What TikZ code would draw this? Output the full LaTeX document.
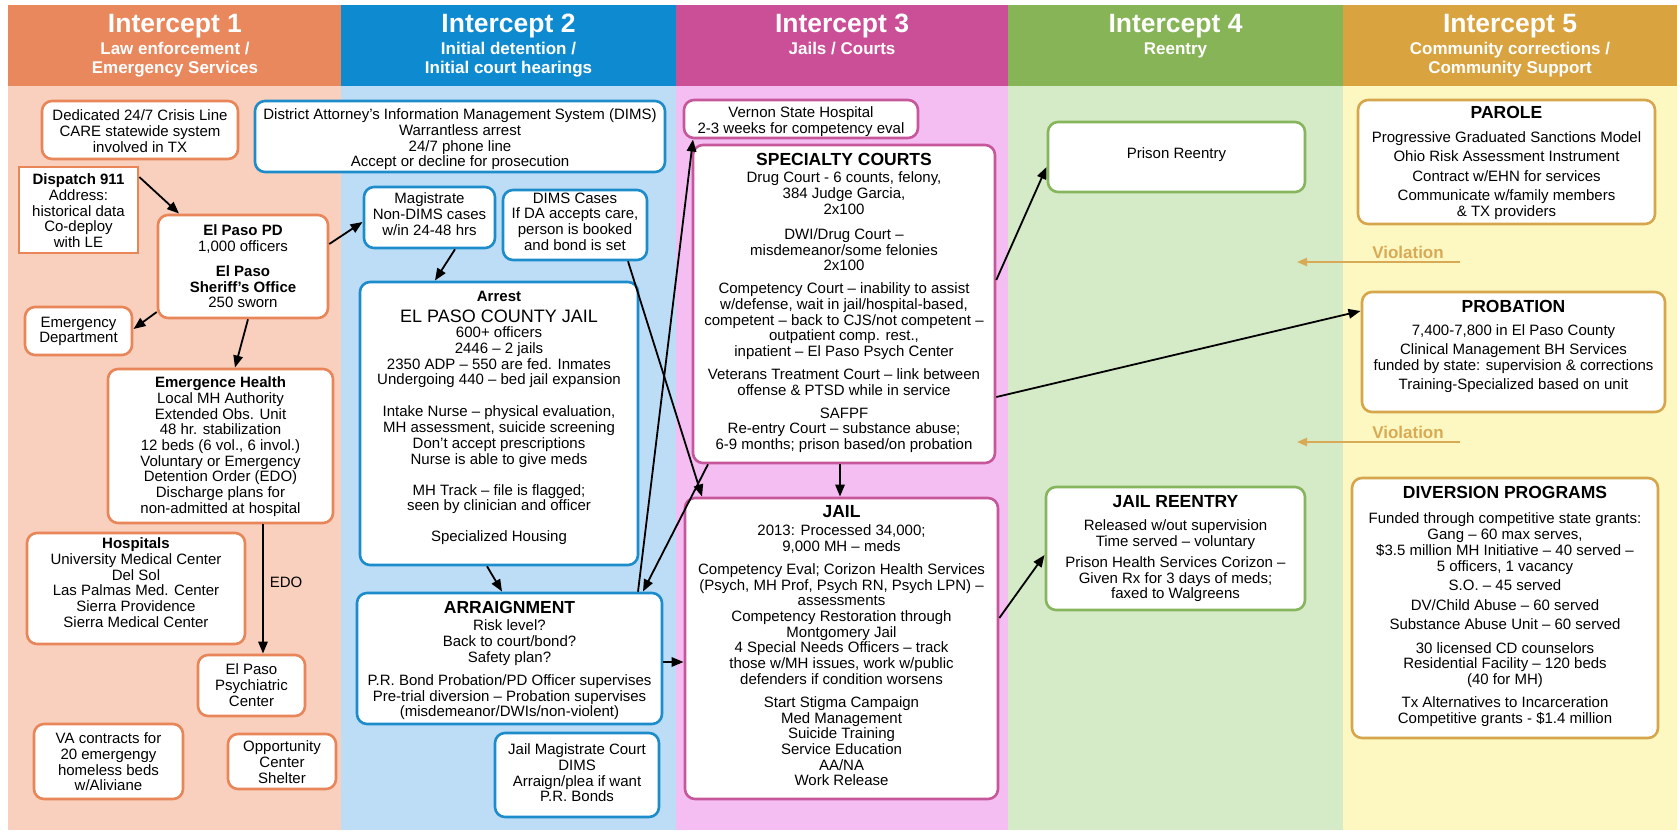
\documentclass[tikz,border=0pt]{standalone}
\usepackage{fontspec}
\setmainfont{Liberation Sans}
\usetikzlibrary{arrows.meta,calc}
\definecolor{c1h}{HTML}{E9875D}
\definecolor{c1b}{HTML}{F9D0BD}
\definecolor{c1l}{HTML}{E8865A}
\definecolor{c2h}{HTML}{0E8AD0}
\definecolor{c2b}{HTML}{BDDCF6}
\definecolor{c2l}{HTML}{1C8CCB}
\definecolor{c3h}{HTML}{CB4F96}
\definecolor{c3b}{HTML}{F5BEF2}
\definecolor{c3l}{HTML}{C5579A}
\definecolor{c4h}{HTML}{86B456}
\definecolor{c4b}{HTML}{D5EAC6}
\definecolor{c4l}{HTML}{86B55E}
\definecolor{c5h}{HTML}{D9A33F}
\definecolor{c5b}{HTML}{FDF8C2}
\definecolor{c5l}{HTML}{D6A64C}
\definecolor{viol}{HTML}{D9AA55}
\newcommand\bodyfont{\fontsize{15}{15.7}\selectfont}
\newcommand\ttl{\bfseries\fontsize{17.5}{17.5}\selectfont}
\newcommand\mkbox[6]{\node[box,draw=#2,minimum width={(#5-#3)*1pt},minimum height={(#6-#4)*1pt}] (#1) at ({(#3+#5)/2},{(#4+#6)/2}) {};}
\tikzset{
  box/.style={line width=2.6pt, rounded corners=10pt, fill=white, inner sep=0pt, outer sep=0pt},
  txt/.style={align=center, inner sep=0pt, font=\bodyfont, anchor=north},
  conn/.style={-{Triangle[length=12pt,width=9.5pt]}, line width=1.8pt, black},
  vconn/.style={-{Triangle[length=10pt,width=8pt]}, line width=2pt, viol},
  htitle/.style={anchor=base, inner sep=0pt, text=white, font=\bfseries\fontsize{26.5}{26.5}\selectfont},
  hsub/.style={anchor=base, inner sep=0pt, text=white, font=\bfseries\fontsize{17}{17}\selectfont},
  vtext/.style={anchor=base, inner sep=0pt, text=viol, font=\bfseries\fontsize{17}{17}\selectfont}
}
\begin{document}
\begin{tikzpicture}[x=1pt,y=-1pt]
\useasboundingbox (0,0) rectangle (1677,830);
\fill[white] (0,0) rectangle (1677,830);
% column backgrounds
\fill[c1b] (8,86) rectangle (341,830);
\fill[c2b] (341,86) rectangle (676,830);
\fill[c3b] (676,86) rectangle (1008,830);
\fill[c4b] (1008,86) rectangle (1343,830);
\fill[c5b] (1343,86) rectangle (1677,830);
\fill[c1h] (8,5) rectangle (341,86);
\fill[c2h] (341,5) rectangle (676,86);
\fill[c3h] (676,5) rectangle (1008,86);
\fill[c4h] (1008,5) rectangle (1343,86);
\fill[c5h] (1343,5) rectangle (1677,86);
% headers
\node[htitle] (h1t) at (175,32.5) {Intercept 1};
\node[hsub] (h1a) at (175,54) {Law enforcement /};
\node[hsub] (h1b) at (175,73.6) {Emergency Services};
\node[htitle] (h2t) at (508.5,32.5) {Intercept 2};
\node[hsub] (h2a) at (508.5,54) {Initial detention /};
\node[hsub] (h2b) at (508.5,73.6) {Initial court hearings};
\node[htitle] (h3t) at (842,32.5) {Intercept 3};
\node[hsub] (h3a) at (842,54) {Jails / Courts};
\node[htitle] (h4t) at (1175.5,32.5) {Intercept 4};
\node[hsub] (h4a) at (1175.5,54) {Reentry};
\node[htitle] (h5t) at (1510,32.5) {Intercept 5};
\node[hsub] (h5a) at (1510,54) {Community corrections /};
\node[hsub] (h5b) at (1510,73.6) {Community Support};

% ---------- Intercept 1 ----------
\mkbox{crisis}{c1l}{42}{101}{238}{159}
\node[txt] (crisis-t) at (140,109.6) {Dedicated 24/7 Crisis Line\\CARE statewide system\\involved in TX};
\node[box,draw=c1l,rounded corners=0pt,minimum width=119pt,minimum height=86pt] (dispatch) at (78.5,210) {};
\node[txt] (dispatch-t) at (78.5,173.6) {\textbf{Dispatch 911}\\Address:\\historical data\\Co-deploy\\with LE};
\mkbox{pd}{c1l}{158}{215}{328}{318}
\node[txt] (pd-t) at (243,224.6) {\textbf{El Paso PD}\\1,000 officers\\[9.3pt]\textbf{El Paso}\\\textbf{Sheriff’s Office}\\250 sworn};
\mkbox{ed}{c1l}{25}{307}{132}{355}
\node[txt] (ed-t) at (78.5,316.6) {Emergency\\Department};
\mkbox{eh}{c1l}{108}{369}{333}{523}
\node[txt] (eh-t) at (220.5,376.6) {\textbf{Emergence Health}\\Local MH Authority\\Extended Obs. Unit\\48 hr. stabilization\\12 beds (6 vol., 6 invol.)\\Voluntary or Emergency\\Detention Order (EDO)\\Discharge plans for\\non-admitted at hospital};
\mkbox{hosp}{c1l}{27}{533}{245}{644}
\node[txt] (hosp-t) at (136,537.6) {\textbf{Hospitals}\\University Medical Center\\Del Sol\\Las Palmas Med. Center\\Sierra Providence\\Sierra Medical Center};
\mkbox{epc}{c1l}{198}{655}{305}{716}
\node[txt] (epc-t) at (251.5,663.6) {El Paso\\Psychiatric\\Center};
\mkbox{va}{c1l}{34}{724}{183}{799}
\node[txt] (va-t) at (108.5,732.6) {VA contracts for\\20 emergengy\\homeless beds\\w/Aliviane};
\mkbox{opp}{c1l}{228}{734}{336}{789}
\node[txt] (opp-t) at (282,740.6) {Opportunity\\Center\\Shelter};

% ---------- Intercept 2 ----------
\mkbox{dims}{c2l}{255}{101}{665}{172}
\node[txt] (dims-t) at (460,108.6) {District Attorney’s Information Management System (DIMS)\\Warrantless arrest\\24/7 phone line\\Accept or decline for prosecution};
\mkbox{mag}{c2l}{364}{187}{495}{248}
\node[txt] (mag-t) at (429.5,192.6) {Magistrate\\Non-DIMS cases\\w/in 24-48 hrs};
\mkbox{dimsc}{c2l}{503}{190}{647}{260}
\node[txt] (dimsc-t) at (575,192.6) {DIMS Cases\\If DA accepts care,\\person is booked\\and bond is set};
\mkbox{jail1}{c2l}{360}{282}{638}{565}
\node[txt] (jail1-t) at (499,290.6) {\textbf{Arrest}\\[5.3pt]{\fontsize{18}{18}\selectfont EL PASO COUNTY JAIL}\\600+ officers\\2446 – 2 jails\\2350 ADP – 550 are fed. Inmates\\Undergoing 440 – bed jail expansion\\[16.3pt]Intake Nurse – physical evaluation,\\MH assessment, suicide screening\\Don’t accept prescriptions\\Nurse is able to give meds\\[15.3pt]MH Track – file is flagged;\\seen by clinician and officer\\[15.3pt]Specialized Housing};
\mkbox{arr}{c2l}{357}{593}{662}{724}
\node[txt] (arr-t) at (509.5,601.5) {{\ttl ARRAIGNMENT}\\[1.3pt]Risk level?\\Back to court/bond?\\Safety plan?\\[7.3pt]P.R. Bond Probation/PD Officer supervises\\Pre-trial diversion – Probation supervises\\(misdemeanor/DWIs/non-violent)};
\mkbox{jmc}{c2l}{495}{733}{659}{817}
\node[txt] (jmc-t) at (577,743.6) {Jail Magistrate Court\\DIMS\\Arraign/plea if want\\P.R. Bonds};

% ---------- Intercept 3 ----------
\mkbox{vernon}{c3l}{684}{100}{918}{138}
\node[txt] (vernon-t) at (801,106.6) {Vernon State Hospital\\2-3 weeks for competency eval};
\mkbox{spec}{c3l}{693}{145}{995}{463}
\node[txt] (spec-t) at (844,153.5) {{\ttl SPECIALTY COURTS}\\[1.3pt]Drug Court - 6 counts, felony,\\384 Judge Garcia,\\2x100\\[9.3pt]DWI/Drug Court –\\misdemeanor/some felonies\\2x100\\[7.3pt]Competency Court – inability to assist\\w/defense, wait in jail/hospital-based,\\competent – back to CJS/not competent –\\outpatient comp. rest.,\\inpatient – El Paso Psych Center\\[7.3pt]Veterans Treatment Court – link between\\offense \& PTSD while in service\\[7.3pt]SAFPF\\Re-entry Court – substance abuse;\\6-9 months; prison based/on probation};
\mkbox{jail3}{c3l}{685}{498}{998}{799}
\node[txt] (jail3-t) at (841.5,505.5) {{\ttl JAIL}\\[2.3pt]2013: Processed 34,000;\\9,000 MH – meds\\[7.3pt]Competency Eval; Corizon Health Services\\(Psych, MH Prof, Psych RN, Psych LPN) –\\assessments\\Competency Restoration through\\Montgomery Jail\\4 Special Needs Officers – track\\those w/MH issues, work w/public\\defenders if condition worsens\\[7.3pt]Start Stigma Campaign\\Med Management\\Suicide Training\\Service Education\\AA/NA\\Work Release};

% ---------- Intercept 4 ----------
\mkbox{prison}{c4l}{1048}{122}{1305}{192}
\node[txt] (prison-t) at (1176.5,147.6) {Prison Reentry};
\mkbox{jre}{c4l}{1046}{487}{1305}{610}
\node[txt] (jre-t) at (1175.5,495.5) {{\ttl JAIL REENTRY}\\[7.3pt]Released w/out supervision\\Time served – voluntary\\[5.3pt]Prison Health Services Corizon –\\Given Rx for 3 days of meds;\\faxed to Walgreens};

% ---------- Intercept 5 ----------
\mkbox{parole}{c5l}{1358}{100}{1655}{224}
\node[txt] (parole-t) at (1506.5,106.5) {{\ttl PAROLE}\\[8.3pt]Progressive Graduated Sanctions Model\\[3.3pt]Ohio Risk Assessment Instrument\\[4.3pt]Contract w/EHN for services\\[3.3pt]Communicate w/family members\\\& TX providers};
\mkbox{prob}{c5l}{1362}{292}{1665}{412}
\node[txt] (prob-t) at (1513.5,300.5) {{\ttl PROBATION}\\[7.3pt]7,400-7,800 in El Paso County\\[3.3pt]Clinical Management BH Services\\funded by state: supervision \& corrections\\[3.3pt]Training-Specialized based on unit};
\mkbox{div}{c5l}{1352}{478}{1658}{738}
\node[txt] (div-t) at (1505,486.5) {{\ttl DIVERSION PROGRAMS}\\[9.3pt]Funded through competitive state grants:\\Gang – 60 max serves,\\\$3.5 million MH Initiative – 40 served –\\5 officers, 1 vacancy\\[3.3pt]S.O. – 45 served\\[4.3pt]DV/Child Abuse – 60 served\\[3.3pt]Substance Abuse Unit – 60 served\\[8.3pt]30 licensed CD counselors\\Residential Facility – 120 beds\\(40 for MH)\\[7.3pt]Tx Alternatives to Incarceration\\Competitive grants - \$1.4 million};

% violation arrows
\coordinate (v1s) at (1460,262);
\coordinate (v1e) at (1297,262);
\draw[vconn] (v1s) -- (v1e);
\node[vtext] (v1t) at (1408,258) {Violation};
\coordinate (v2s) at (1460,442);
\coordinate (v2e) at (1297,442);
\draw[vconn] (v2s) -- (v2e);
\node[vtext] (v2t) at (1408,438) {Violation};

% ---------- connectors ----------
\draw[conn] ($(dispatch.north east)+(1.3,10)$) -- ($(pd.north west)+(21,-1.5)$);
\draw[conn] ($(pd.south west)+(-1.3,-6)$) -- ($(ed.east)+(1.5,-2)$);
\draw[conn] ($(pd.south west)+(90,1.3)$) -- ($(eh.north west)+(127,-1.5)$);
\draw[conn] ($(pd.east)+(1.3,-22.5)$) -- ($(mag.west)+(-1.5,4.5)$);
\draw[conn] ($(eh.south west)+(155,1.3)$) -- ($(epc.north west)+(65,-1.5)$) node[pos=0.45, right=6pt, font=\bodyfont, inner sep=0pt] (edo) {EDO};
\draw[conn] ($(mag.south)+(25.5,1.3)$) -- ($(jail1.north west)+(75,-1.5)$);
\draw[conn] ($(jail1.south west)+(127,1.3)$) -- ($(arr.north west)+(145,-1.5)$);
\draw[conn] ($(arr.east)+(1.3,3.5)$) -- ($(jail3.west)+(-1.5,13.5)$);
\draw[conn] ($(arr.north east)+(-24,-1.3)$) -- ($(vernon.south west)+(9,1.5)$);
\draw[conn] ($(spec.south west)+(15,1.3)$) -- ($(arr.north east)+(-19,-1.5)$);
\draw[conn] ($(dimsc.south east)+(-19,1.3)$) -- ($(jail3.north west)+(17,-1.5)$);
\draw[conn] ($(spec.south)+(-4,1.3)$) -- ($(jail3.north)+(-1.5,-1.5)$);
\draw[conn] ($(spec.east)+(1.3,-24)$) -- ($(prison.west)+(-1.5,10)$);
\draw[conn] ($(spec.east)+(1.3,93)$) -- ($(prob.west)+(-1.5,-41)$);
\draw[conn] ($(jail3.east)+(1.3,-30.5)$) -- ($(jre.west)+(-1.5,6.5)$);
\end{tikzpicture}
\end{document}
